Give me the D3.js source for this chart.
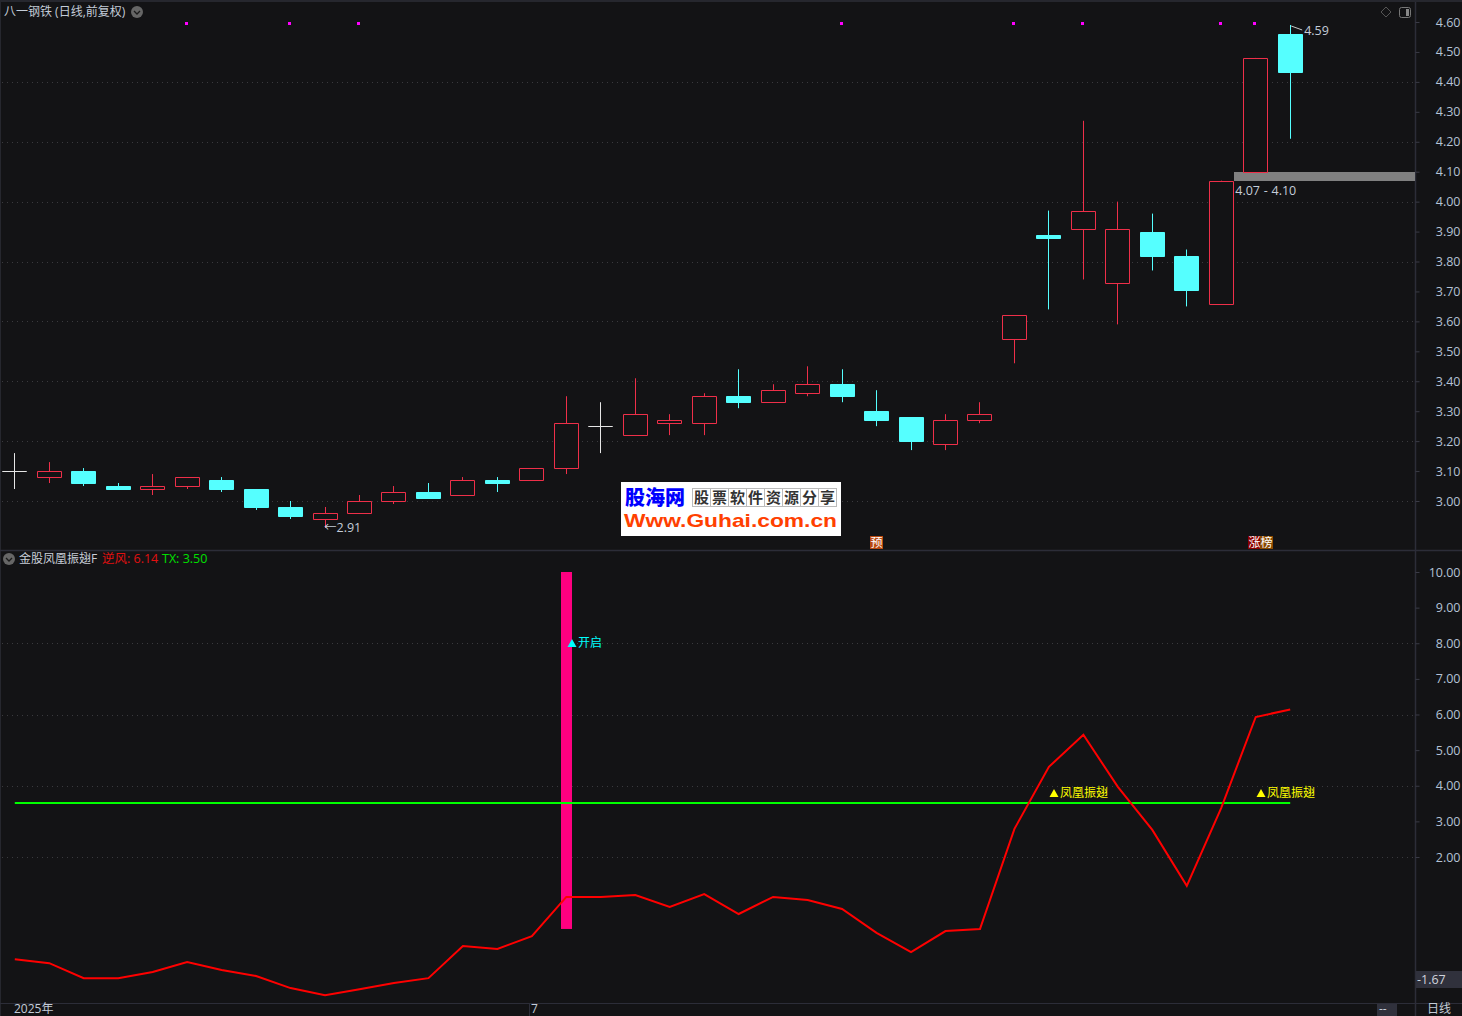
<!DOCTYPE html>
<html>
<head>
<meta charset="utf-8">
<script src="https://cdn.jsdelivr.net/npm/d3@7"></script>
<style>
  html, body { margin: 0; padding: 0; background: #131315; overflow: hidden; }
  svg { display: block; }
  text { font-family: "Open Sans", "Noto Sans CJK SC", sans-serif; font-size: 12.5px; }
  .axis text { fill: #b4c2d6; font-size: 12.5px; }
  .axis path { display: none; }
  .axis line { stroke: #3a3b46; }
</style>
</head>
<body>
<svg id="chart" width="1462" height="1016"></svg>
<script>
// candle values
var opens  = [3.10,3.08,3.10,3.05,3.04,3.05,3.07,3.04,2.98,2.94,2.96,3.00,3.03,3.02,3.07,3.07,3.11,3.25,3.22,3.26,3.26,3.35,3.33,3.36,3.39,3.30,3.28,3.19,3.27,3.54,3.89,3.91,3.73,3.90,3.82,3.66,4.10,4.56];
var closes = [3.10,3.10,3.06,3.04,3.05,3.08,3.04,2.98,2.95,2.96,3.00,3.03,3.01,3.07,3.06,3.11,3.26,3.25,3.29,3.27,3.35,3.33,3.37,3.39,3.35,3.27,3.20,3.27,3.29,3.62,3.88,3.97,3.91,3.82,3.705,4.07,4.48,4.432];
var highs  = [3.16,3.13,3.11,3.06,3.09,3.08,3.08,3.04,3.00,2.98,3.02,3.05,3.06,3.08,3.08,3.11,3.35,3.33,3.41,3.29,3.36,3.44,3.39,3.45,3.44,3.37,3.28,3.29,3.33,3.62,3.97,4.27,4.00,3.96,3.84,4.07,4.48,4.59];
var lows   = [3.04,3.06,3.05,3.04,3.02,3.04,3.03,2.97,2.94,2.91,2.96,2.99,3.01,3.02,3.03,3.07,3.09,3.16,3.22,3.22,3.22,3.31,3.33,3.35,3.33,3.25,3.17,3.17,3.26,3.46,3.64,3.74,3.59,3.77,3.65,3.66,4.10,4.21];

// indicator values
var niFeng = [-0.87,-0.98,-1.40,-1.40,-1.23,-0.95,-1.17,-1.34,-1.68,-1.88,-1.71,-1.54,-1.40,-0.50,-0.58,-0.22,0.88,0.88,0.93,0.60,0.96,0.40,0.88,0.79,0.54,-0.13,-0.67,-0.08,-0.02,2.79,4.53,5.43,3.97,2.76,1.19,3.38,5.93,6.14];
var txValue = 3.50;

// signals
var dotIndexes = [5,8,10,24,29,31,35,36];
var phoenixIndexes = [30,36];
var phoenixValue = 3.80;
var openIndex = 16, openValue = 8, barTop = 10, barBottom = -0.02;
var gapLow = 4.07, gapHigh = 4.10;
var lowIndex = 9, highIndex = 37;

// axis ticks
var priceTicks = [3.0,3.1,3.2,3.3,3.4,3.5,3.6,3.7,3.8,3.9,4.0,4.1,4.2,4.3,4.4,4.5,4.6];
var priceGrid = [3.0,3.2,3.4,3.6,3.8,4.0,4.2,4.4];
var indTicks = [2,3,4,5,6,7,8,9,10];
var indGrid = [2,4,6,8];
var shareChars = ["股","票","软","件","资","源","分","享"];

var RED = "#ee2f49", CYAN = "#55ffff", WHITE = "#e6e6e6", LINE = "#2c2d38";
var paneRight = 1415;

var svg = d3.select("#chart");

var x = d3.scaleLinear().domain([0, 37]).range([14.8, 1290.2]);
var yPrice = d3.scaleLinear().domain([3, 4.6]).range([501, 22]);
var yInd = d3.scaleLinear().domain([2, 10]).range([857, 572]);

function crisp(v) { return Math.round(v) + 0.5; }
function crispX(v) { return Math.floor(v) + 0.5; }

// frame
var frame = svg.append("g");
frame.append("rect").attr("width", 1462).attr("height", 2).attr("fill", "#26272e");
frame.append("line").attr("x1", 0.5).attr("x2", 0.5).attr("y1", 0).attr("y2", 1016).attr("stroke", "#26272e");
frame.append("line").attr("x1", paneRight + 0.5).attr("x2", paneRight + 0.5).attr("y1", 2).attr("y2", 1016).attr("stroke", LINE).attr("stroke-width", 1.5);
frame.append("line").attr("x1", 0).attr("x2", 1462).attr("y1", 550.5).attr("y2", 550.5).attr("stroke", LINE).attr("stroke-width", 1.5);
frame.append("line").attr("x1", 0).attr("x2", 1462).attr("y1", 1003.5).attr("y2", 1003.5).attr("stroke", LINE);

// grid
function grid(values, scale, x2) {
    svg.append("g").selectAll("line").data(values).enter().append("line")
        .attr("x1", 2)
        .attr("x2", x2)
        .attr("y1", function (d) { return crisp(scale(d)); })
        .attr("y2", function (d) { return crisp(scale(d)); })
        .attr("stroke", "#3a3a3e")
        .attr("stroke-dasharray", "1,4");
}
grid(priceGrid, yPrice, paneRight);
grid(indGrid, yInd, paneRight);

// axes
svg.append("g").attr("class", "axis")
    .attr("transform", "translate(" + (paneRight + 0.5) + ",0)")
    .call(d3.axisRight(yPrice).tickValues(priceTicks).tickFormat(d3.format(".2f")).tickSize(4).tickPadding(17));
svg.append("g").attr("class", "axis")
    .attr("transform", "translate(" + (paneRight + 0.5) + ",0)")
    .call(d3.axisRight(yInd).tickValues(indTicks).tickFormat(d3.format(".2f")).tickSize(4).tickPadding(13));
svg.selectAll(".axis .tick text").attr("text-anchor", "end").attr("x", 45);

// gap band
svg.append("rect")
    .attr("x", Math.floor(x(35)) + 13)
    .attr("width", paneRight - Math.floor(x(35)) - 13)
    .attr("y", Math.round(yPrice(gapHigh)))
    .attr("height", Math.round(yPrice(gapLow) - yPrice(gapHigh)))
    .attr("fill", "#808080");
svg.append("text")
    .attr("x", x(35) + 14)
    .attr("y", yPrice(gapLow) + 14)
    .attr("fill", "#c3ccd8")
    .style("word-spacing", "0.5px")
    .text(gapLow.toFixed(2) + " - " + gapHigh.toFixed(2));

// candles
function candleColor(i) {
    if (opens[i] === closes[i]) return WHITE;
    return closes[i] > opens[i] ? RED : CYAN;
}
var candles = svg.append("g").selectAll("g").data(opens).enter().append("g");
candles.append("line")
    .attr("x1", function (d, i) { return crispX(x(i)); })
    .attr("x2", function (d, i) { return crispX(x(i)); })
    .attr("y1", function (d, i) { return yPrice(highs[i]); })
    .attr("y2", function (d, i) { return yPrice(lows[i]); })
    .attr("stroke", function (d, i) { return candleColor(i); });
// bodies are paths so that a flat open=close body still strokes as a dash
candles.append("path")
    .attr("d", function (d, i) {
        var top = crisp(yPrice(Math.max(opens[i], closes[i])));
        var h = Math.round(Math.abs(yPrice(opens[i]) - yPrice(closes[i])));
        return "M" + (crispX(x(i)) - 12) + "," + top + "h24v" + h + "h-24Z";
    })
    .attr("fill", function (d, i) {
        return closes[i] > opens[i] ? "#131315" : candleColor(i);
    })
    .attr("stroke", function (d, i) { return candleColor(i); });

// extremes
svg.append("text").attr("x", x(lowIndex) - 1).attr("y", yPrice(lows[lowIndex]) + 4)
    .attr("fill", "#c3ccd8").text("←" + lows[lowIndex].toFixed(2));
svg.append("line").attr("x1", x(highIndex) + 1).attr("x2", x(highIndex) + 12)
    .attr("y1", yPrice(highs[highIndex]) + 1).attr("y2", yPrice(highs[highIndex]) + 5)
    .attr("stroke", "#c8c8c8");
svg.append("text").attr("x", x(highIndex) + 14).attr("y", yPrice(highs[highIndex]) + 10)
    .attr("fill", "#c3ccd8").text(highs[highIndex].toFixed(2));

// magenta dots
svg.append("g").selectAll("rect").data(dotIndexes).enter().append("rect")
    .attr("x", function (d) { return Math.floor(x(d)) - 2; })
    .attr("y", 22)
    .attr("width", 3)
    .attr("height", 3)
    .attr("fill", "#ff00ff");

// indicator
svg.append("rect")
    .attr("x", Math.floor(x(openIndex)) - 5)
    .attr("width", 11)
    .attr("y", yInd(barTop))
    .attr("height", yInd(barBottom) - yInd(barTop))
    .attr("fill", "#ff0080");

svg.append("line")
    .attr("x1", x(0)).attr("x2", x(37))
    .attr("y1", Math.floor(yInd(txValue))).attr("y2", Math.floor(yInd(txValue)))
    .attr("stroke", "#00ff00").attr("stroke-width", 2);

svg.append("path")
    .datum(niFeng)
    .attr("fill", "none")
    .attr("stroke", "#ff0000")
    .attr("stroke-width", 2)
    .attr("d", d3.line()
        .x(function (d, i) { return x(i); })
        .y(function (d) { return yInd(d); }));

function signal(i, value, label, color) {
    var g = svg.append("g")
        .attr("transform", "translate(" + Math.floor(x(i)) + "," + Math.round(yInd(value)) + ")");
    g.append("path").attr("d", "M1.5,4L10.5,4L6,-4Z").attr("fill", color);
    g.append("text").attr("x", 12).attr("y", 4).attr("fill", color).style("font-size", "12px").text(label);
}
signal(openIndex, openValue, "开启", "#00ffff");
phoenixIndexes.forEach(function (i) { signal(i, phoenixValue, "凤凰振翅", "#ffff00"); });

// headers
function dropdown(cx, cy) {
    svg.append("circle").attr("cx", cx).attr("cy", cy).attr("r", 6).attr("fill", "#666");
    svg.append("path").attr("d", "M" + (cx - 3) + "," + (cy - 1) + "l3,3l3,-3")
        .attr("fill", "none").attr("stroke", "#1a1a1a").attr("stroke-width", 1.3);
}
svg.append("text").attr("x", 4).attr("y", 16).attr("fill", "#c3ccd8").style("font-size", "12px").text("八一钢铁 (日线,前复权)");
dropdown(137, 12);
dropdown(9, 559);
svg.append("text").attr("x", 19).attr("y", 563).attr("fill", "#c8ced8").style("font-size", "12px").text("金股凤凰振翅F");
svg.append("text").attr("x", 102).attr("y", 563).attr("fill", "#e01010").text("逆风: " + niFeng[37].toFixed(2));
svg.append("text").attr("x", 162).attr("y", 563).attr("fill", "#00e000").text("TX: " + txValue.toFixed(2));

// top right icons
svg.append("path").attr("d", "M1386,7l5,5l-5,5l-5,-5Z").attr("fill", "none").attr("stroke", "#555");
svg.append("rect").attr("x", 1399.5).attr("y", 7.5).attr("width", 11).attr("height", 10).attr("rx", 2)
    .attr("fill", "none").attr("stroke", "#777");
svg.append("rect").attr("x", 1406).attr("y", 9).attr("width", 3).attr("height", 7).attr("fill", "#888");

// tags
function tag(tx, text, color) {
    svg.append("rect").attr("x", tx).attr("y", 536).attr("width", 13).attr("height", 13).attr("fill", color);
    svg.append("text").attr("x", tx + 0.5).attr("y", 547).attr("fill", "#fff").style("font-size", "12px").text(text);
}
tag(870, "预", "#b8480f");
tag(1248, "涨", "#8a0000");
tag(1260, "榜", "#8a4a00");

// watermark
var mark = svg.append("g");
mark.append("rect").attr("x", 621).attr("y", 482).attr("width", 220).attr("height", 54).attr("fill", "#fff");
mark.append("text").attr("x", 625).attr("y", 505)
    .attr("fill", "#0000ff").style("font-size", "20px").style("font-weight", "900").text("股海网");
mark.selectAll(".cell").data(shareChars).enter().append("g").each(function (d, i) {
    var g = d3.select(this).attr("transform", "translate(" + (692.5 + i * 18) + ",488.5)");
    g.append("rect").attr("width", 18).attr("height", 18).attr("fill", "none").attr("stroke", "#bbb");
    g.append("text").attr("x", 1.5).attr("y", 14.5).attr("fill", "#333").style("font-size", "15px").style("font-weight", "700").text(d);
});
mark.append("text").attr("x", 624).attr("y", 527)
    .attr("fill", "#ff4000")
    .attr("textLength", 213)
    .attr("lengthAdjust", "spacingAndGlyphs")
    .style("font-family", "'Liberation Sans'")
    .style("font-size", "19px")
    .style("font-weight", "bold")
    .text("Www.Guhai.com.cn");

// bottom strip
svg.append("text").attr("x", 14).attr("y", 1013).attr("fill", "#c3ccd8").style("font-size", "12px").text("2025年");
svg.append("line").attr("x1", 529.5).attr("x2", 529.5).attr("y1", 1004).attr("y2", 1016).attr("stroke", LINE);
svg.append("text").attr("x", 531).attr("y", 1013).attr("fill", "#c3ccd8").style("font-size", "12px").text("7");
svg.append("rect").attr("x", 1377).attr("y", 1004).attr("width", 20).attr("height", 12).attr("fill", "#30313c");
svg.append("text").attr("x", 1379).attr("y", 1013).attr("fill", "#c3ccd8").style("font-size", "12px").text("--");
svg.append("text").attr("x", 1427).attr("y", 1013).attr("fill", "#c3ccd8").style("font-size", "12px").text("日线");

// current value box
svg.append("rect").attr("x", 1416).attr("y", 971).attr("width", 46).attr("height", 17).attr("fill", "#30313c");
svg.append("text").attr("x", 1417).attr("y", 984).attr("fill", "#d0d4dc").text("-1.67");
</script>
</body>
</html>
